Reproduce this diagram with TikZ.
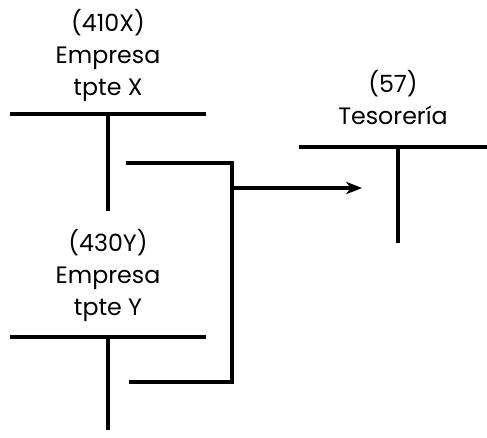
\documentclass[tikz,border=0pt]{standalone}
\usepackage{fontspec}
\setmainfont{Poppins}
\usetikzlibrary{arrows.meta,positioning}

\begin{document}
\begin{tikzpicture}[>={Stealth[length=9pt,width=7pt,inset=2.5pt]}, x=0.02cm, y=-0.02cm,
  acct/.style={line width=1.9pt, line cap=butt},
  title/.style={align=center, anchor=base, inner sep=0pt, font=\fontsize{13.5}{18}\selectfont}]

% Fix the frame
\useasboundingbox (0,0) rectangle (487,437);

% ===== ACCOUNT 410X =====
% (anchor base = baseline of the last line)
\node[title] (titleX) at (108,95) {(410X)\\Empresa\\tpte X};
\coordinate (xL) at (10,114);
\coordinate (xR) at (206,114);
\coordinate (xT) at (108,114);
\coordinate (xB) at (108,211);
\draw[acct] (xL) -- (xR);
\draw[acct] (xT) -- (xB);

% ===== ACCOUNT 430Y =====
\node[title] (titleY) at (108,315) {(430Y)\\Empresa\\tpte Y};
\coordinate (yL) at (10,337);
\coordinate (yR) at (206,337);
\coordinate (yT) at (108,337);
\coordinate (yB) at (108,430);
\draw[acct] (yL) -- (yR);
\draw[acct] (yT) -- (yB);

% ===== ACCOUNT 57 =====
\node[title] (title57) at (393,124) {(57)\\Tesorería};
\coordinate (tL) at (299,147);
\coordinate (tR) at (487,147);
\coordinate (tT) at (398,147);
\coordinate (tB) at (398,243);
\draw[acct] (tL) -- (tR);
\draw[acct] (tT) -- (tB);

% ===== BRACKET AND TRANSFER =====
\coordinate (bx) at (126,163);
\coordinate (by) at (129,382);
\coordinate (join) at (232,188);
\coordinate (into) at (362,188);
\draw[acct] (bx) -| (232,382) -- (by);
\draw[acct,->] (join) -- (into);

\end{tikzpicture}
\end{document}
